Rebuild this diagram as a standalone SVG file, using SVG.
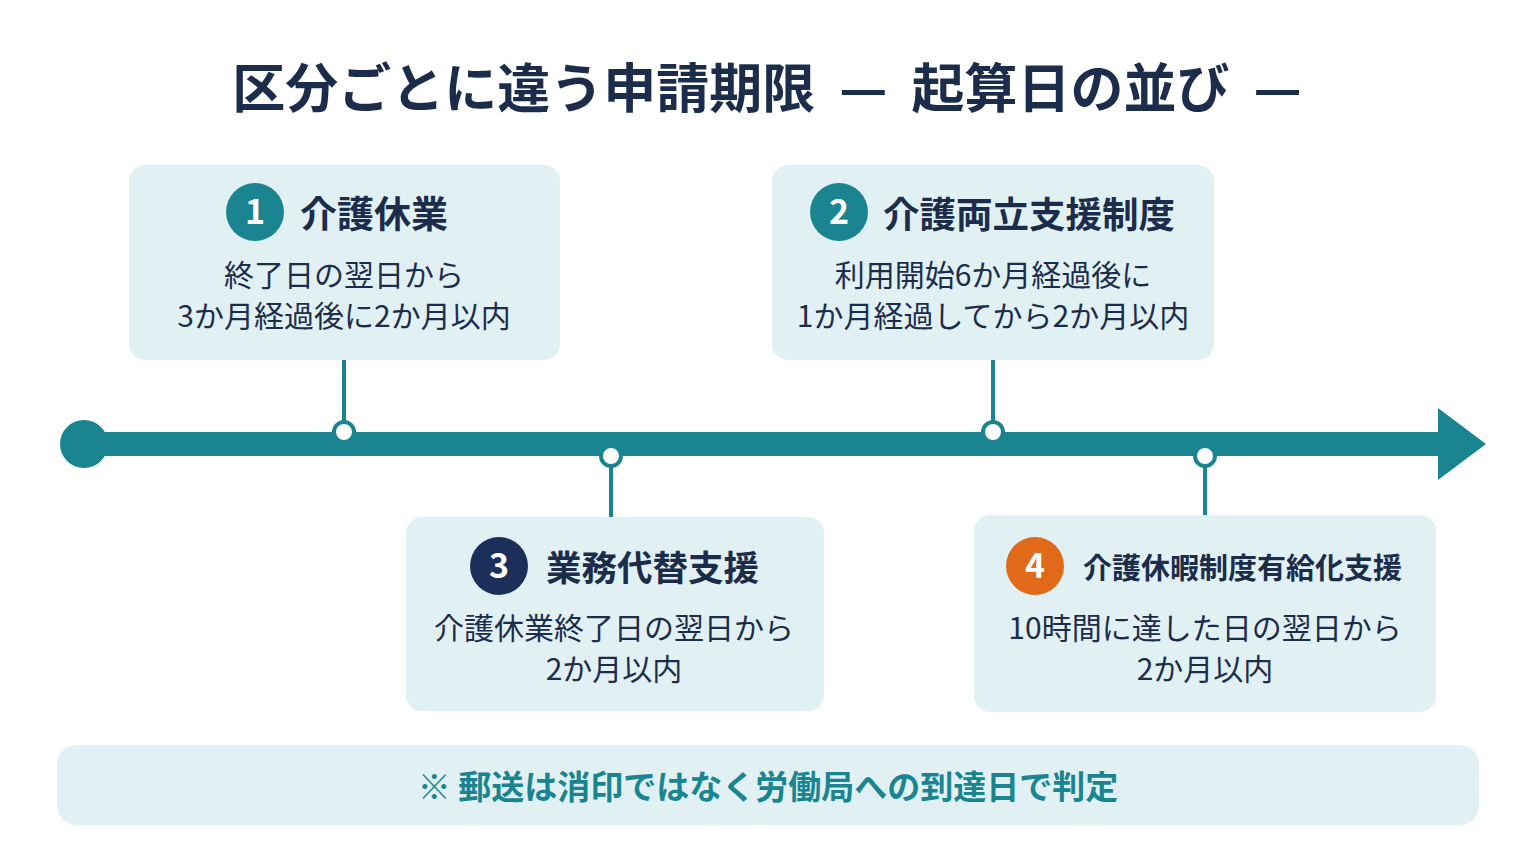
<svg xmlns="http://www.w3.org/2000/svg" width="1536" height="864" viewBox="0 0 1536 864">
<style>
text{font-family:"Noto Sans CJK JP","Noto Sans",sans-serif}
.box{fill:#e1f1f3}
.t{font-size:35px;font-weight:700;fill:#1c2d4c}
.b{font-size:30px;fill:#1c2d4c;text-anchor:middle}
.n{font-size:34px;font-weight:700;fill:#fff;text-anchor:middle}
.ln{stroke:#1a8590;stroke-width:4}
.dot{fill:#fff;stroke:#1a8590;stroke-width:4}
</style>
<rect width="1536" height="864" fill="#fff"/>
<text x="767" y="108" text-anchor="middle" style="font-size:53px" font-weight="700" fill="#1c2d4c" xml:space="preserve">区分ごとに違う申請期限  —  起算日の並び  —</text>
<g id="connectors">
<rect x="84" y="432" width="1360" height="24" fill="#1a8590"/>
<circle cx="84" cy="444" r="24" fill="#1a8590"/>
<polygon points="1438,408 1486,444 1438,480" fill="#1a8590"/>
<line class="ln" x1="344" y1="360" x2="344" y2="432"/>
<circle class="dot" cx="344" cy="432" r="10"/>
<line class="ln" x1="993" y1="360" x2="993" y2="432"/>
<circle class="dot" cx="993" cy="432" r="10"/>
<line class="ln" x1="611" y1="456" x2="611" y2="517"/>
<circle class="dot" cx="611" cy="456" r="10"/>
<line class="ln" x1="1205" y1="456" x2="1205" y2="515"/>
<circle class="dot" cx="1205" cy="456" r="10"/>
</g>
<g id="node1">
<rect class="box" x="129" y="165" width="431" height="195" rx="16"/>
<circle cx="255" cy="212" r="29" fill="#1a8590"/><text class="n" x="255" y="224">1</text>
<text class="t" x="300" y="228" style="font-size:37px">介護休業</text>
<text class="b" x="344" y="286">終了日の翌日から</text>
<text class="b" x="344" y="327">3か月経過後に2か月以内</text>
</g>
<g id="node2">
<rect class="box" x="772" y="165" width="442" height="195" rx="16"/>
<circle cx="839" cy="212" r="29" fill="#1a8590"/><text class="n" x="839" y="224">2</text>
<text class="t" x="883" y="228" style="font-size:36.5px">介護両立支援制度</text>
<text class="b" x="993" y="286">利用開始6か月経過後に</text>
<text class="b" x="993" y="327">1か月経過してから2か月以内</text>
</g>
<g id="node3">
<rect class="box" x="406" y="517" width="418" height="194" rx="16"/>
<circle cx="499" cy="566" r="29" fill="#1b2f5a"/><text class="n" x="499" y="578">3</text>
<text class="t" x="546" y="581" style="font-size:35.5px">業務代替支援</text>
<text class="b" x="614" y="639">介護休業終了日の翌日から</text>
<text class="b" x="614" y="680">2か月以内</text>
</g>
<g id="node4">
<rect class="box" x="974" y="515" width="462" height="197" rx="16"/>
<circle cx="1035" cy="566" r="29" fill="#e06a1a"/><text class="n" x="1035" y="578">4</text>
<text class="t" x="1083" y="579" style="font-size:29px">介護休暇制度有給化支援</text>
<text class="b" x="1205" y="639">10時間に達した日の翌日から</text>
<text class="b" x="1205" y="680">2か月以内</text>
</g>
<g id="note">
<rect class="box" x="57" y="745" width="1422" height="80" rx="20"/>
<text x="768" y="799" text-anchor="middle" font-size="33" font-weight="700" fill="#1a8590">※ 郵送は消印ではなく労働局への到達日で判定</text>
</g>
</svg>
